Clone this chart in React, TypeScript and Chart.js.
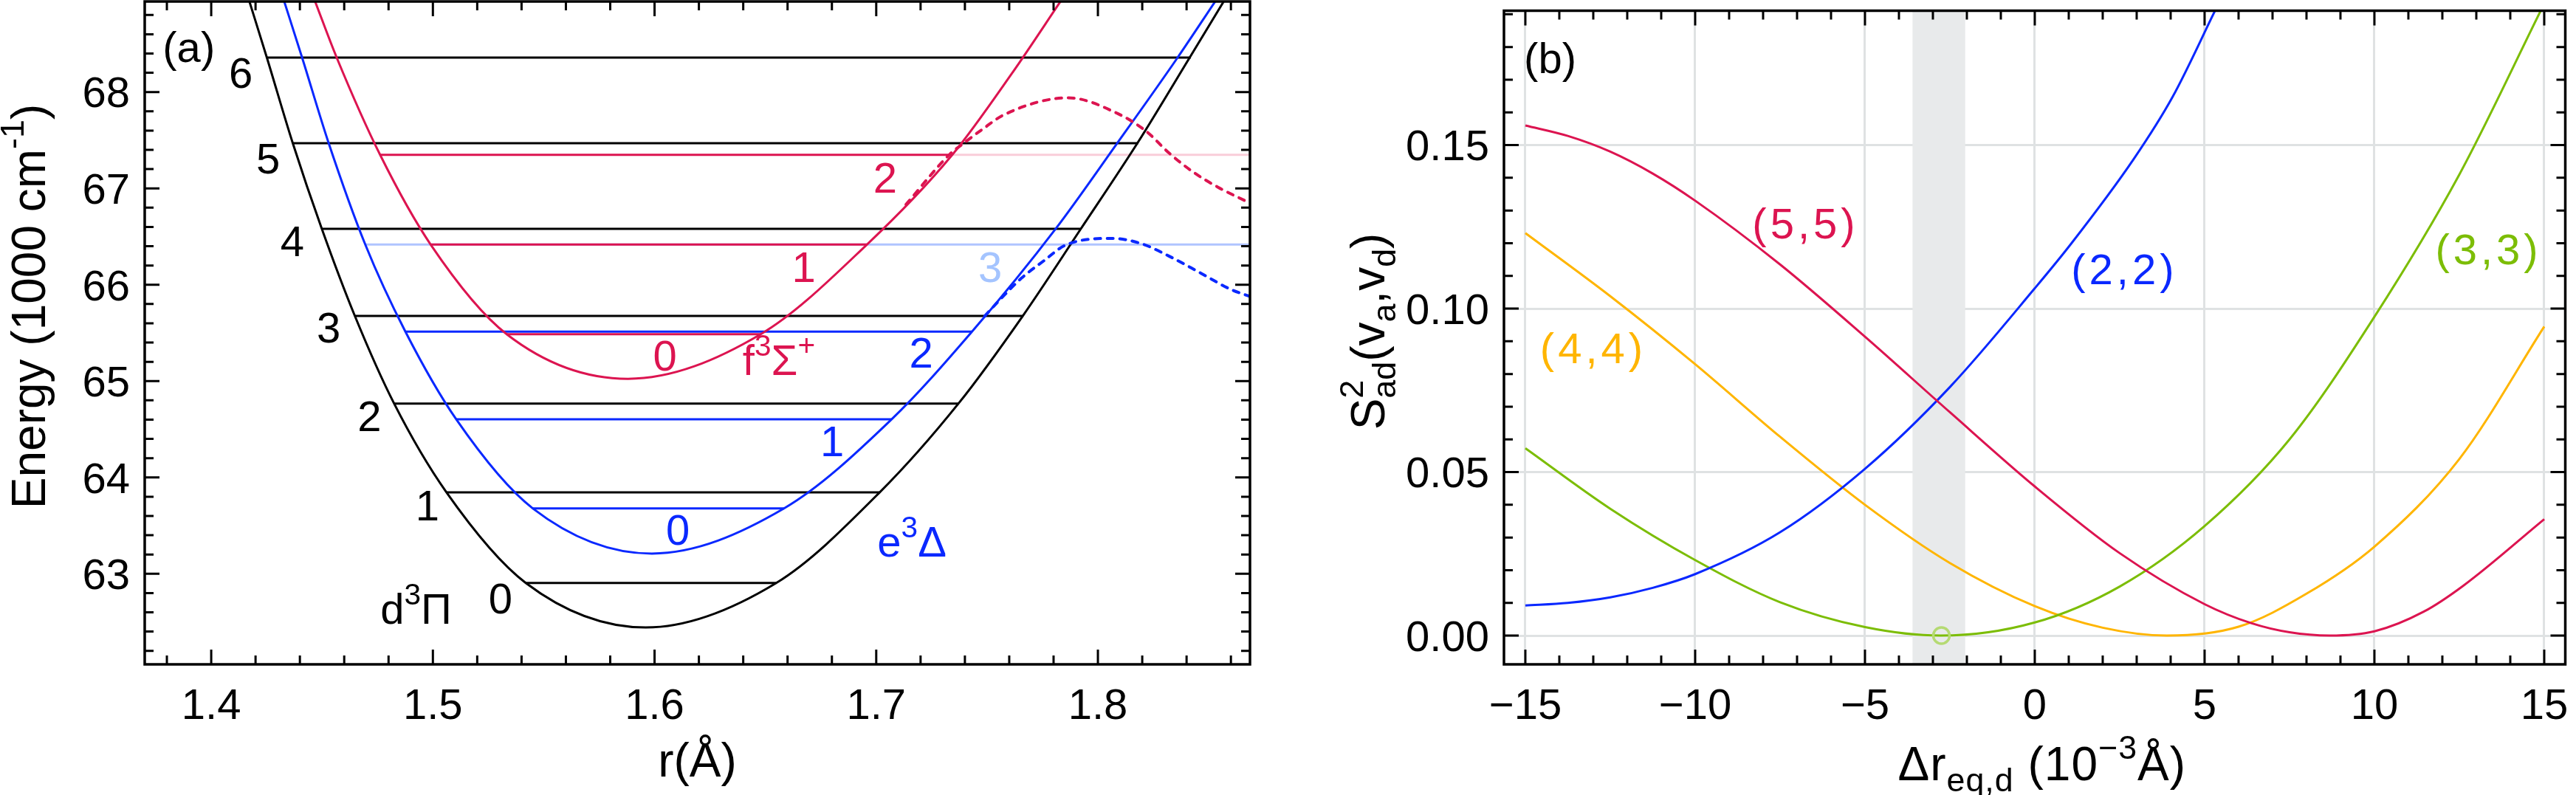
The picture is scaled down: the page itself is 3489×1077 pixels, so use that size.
import React, { useEffect, useRef } from 'react';
import { Chart, registerables } from 'chart.js';
Chart.register(...registerables);

const FONT = '"Liberation Sans", Arial, Helvetica, sans-serif';
const FS = 58;
const TS = 64;

const RED = '#dc1450';
const BLUE = '#0a28ff';
const LIGHT_BLUE = '#b0c4ff';
const LIGHT_BLUE_TEXT = '#a4c4ff';
const PINK = '#f9cdd9';
const GREEN = '#7cbd06';
const GREEN_LIGHT = '#b5da73';
const YELLOW = '#ffb500';
const GRID = '#dfe2e3';
const BAND = '#e8eaeb';

// ---------------- Panel (a) data ----------------
const rRange = [1.37, 1.8686];
const eRange = [62.06, 68.94];
const rTicks = [1.4, 1.5, 1.6, 1.7, 1.8];
const rTickLabels = ['1.4', '1.5', '1.6', '1.7', '1.8'];
const eTicks = [63, 64, 65, 66, 67, 68];
const eTickLabels = ['63', '64', '65', '66', '67', '68'];

const d3PiCurve: [number, number][] = [
  [1.4171, 68.95], [1.4251, 68.358], [1.4368, 67.469], [1.4499, 66.58], [1.4648, 65.676],
  [1.4825, 64.767], [1.5061, 63.846], [1.5419, 62.905], [1.596, 62.443], [1.6549, 62.905],
  [1.7016, 63.846], [1.7371, 64.767], [1.7661, 65.676], [1.7923, 66.58], [1.8178, 67.469],
  [1.8414, 68.358], [1.857, 68.95],
];
const e3DeltaCurve: [number, number][] = [
  [1.4328, 68.95], [1.441, 68.358], [1.453, 67.469], [1.4695, 66.417], [1.4876, 65.513],
  [1.5105, 64.604], [1.5451, 63.678], [1.5988, 63.21], [1.6584, 63.678], [1.707, 64.604],
  [1.7432, 65.513], [1.7809, 66.579], [1.8088, 67.472], [1.8359, 68.356], [1.8532, 68.95],
];
const f3SigmaCurve: [number, number][] = [
  [1.4467, 68.95], [1.4566, 68.358], [1.4762, 67.348], [1.499, 66.417], [1.5333, 65.487],
  [1.588, 65.024], [1.6479, 65.487], [1.6958, 66.417], [1.7343, 67.348], [1.7611, 68.19],
  [1.7834, 68.95],
];
const f3SigmaDashed: [number, number][] = [
  [1.7134, 66.833], [1.7333, 67.357], [1.7389, 67.459], [1.7478, 67.612], [1.7577, 67.765],
  [1.7866, 67.94], [1.8088, 67.778], [1.8221, 67.587], [1.832, 67.369], [1.8432, 67.166],
  [1.8542, 67.012], [1.8687, 66.846],
];
const e3DeltaDashed: [number, number][] = [
  [1.7489, 65.674], [1.7566, 65.864], [1.7655, 66.068], [1.7755, 66.247], [1.7855, 66.412],
  [1.8065, 66.481], [1.8198, 66.425], [1.832, 66.298], [1.8465, 66.119], [1.8598, 65.953],
  [1.8687, 65.877],
];

const d3PiLevelE = [62.905, 63.846, 64.767, 65.676, 66.58, 67.469, 68.358];
const d3PiLevelLeft = [1.5419, 1.5061, 1.4825, 1.4648, 1.4499, 1.4368, 1.4251];
const d3PiLevelRight = [1.6549, 1.7016, 1.7371, 1.7661, 1.7923, 1.8182, 1.8419];
const e3DeltaLevelE = [63.678, 64.604, 65.513];
const e3DeltaLevelLeft = [1.5451, 1.5105, 1.4876];
const e3DeltaLevelRight = [1.6584, 1.707, 1.7432];
const f3SigmaLevelE = [65.487, 66.417, 67.348];
const f3SigmaLevelLeft = [1.5333, 1.499, 1.4762];
const f3SigmaLevelRight = [1.6479, 1.6958, 1.7343];
// quasi-bound levels continuing to the right edge
const e3DeltaQuasi = { e: 66.417, from: 1.4695 };
const f3SigmaQuasi = { e: 67.348, from: 1.7343 };

const d3PiLabelR = [1.5305, 1.4975, 1.4714, 1.453, 1.4366, 1.4257, 1.4133];
const d3PiLabelE = [62.748, 63.71, 64.64, 65.56, 66.454, 67.311, 68.205];
const e3DeltaLabelR = [1.6105, 1.6801, 1.7203, 1.7514];
const e3DeltaLabelE = [63.457, 64.378, 65.298, 66.191];
const f3SigmaLabelR = [1.6047, 1.6673, 1.704];
const f3SigmaLabelE = [65.271, 66.191, 67.111];

// ---------------- Panel (b) data ----------------
const dxRange = [-15.63, 15.62];
const sRange = [-0.0088, 0.1911];
const dxTicks = [-15, -10, -5, 0, 5, 10, 15];
const dxTickLabels = ['\u221215', '\u221210', '\u22125', '0', '5', '10', '15'];
const sTicks = [0, 0.05, 0.1, 0.15];
const sTickLabels = ['0.00', '0.05', '0.10', '0.15'];
const shadedBand = [-3.6, -2.05];
const s33Minimum: [number, number] = [-2.75, 0];

const s55: [number, number][] = [
  [-15, 0.156], [-13.75, 0.1528], [-12.5, 0.148], [-11.25, 0.1413], [-10, 0.133],
  [-7.5, 0.1135], [-5, 0.0914], [-2.5, 0.0683], [0, 0.0456], [2.5, 0.0252],
  [5, 0.0096], [6.37, 0.0038], [7.5, 0.001], [8.68, 0.0], [10, 0.0013],
  [11.45, 0.0073], [12.61, 0.0152], [15, 0.0356],
];
const s22: [number, number][] = [
  [-15, 0.0092], [-13.75, 0.01], [-12.5, 0.0117], [-11.25, 0.0146], [-10, 0.0188],
  [-7.5, 0.0316], [-5, 0.051], [-2.5, 0.076], [0, 0.1062], [1.06, 0.1197],
  [2.91, 0.1457], [4.06, 0.1648], [5.33, 0.1916],
];
const s33: [number, number][] = [
  [-15, 0.0573], [-12.5, 0.0388], [-10, 0.0231], [-7.5, 0.0102], [-5, 0.0026],
  [-2.77, 0.0], [0, 0.004], [2.5, 0.015], [5, 0.0335], [7.5, 0.06],
  [10, 0.0975], [12.5, 0.141], [14.92, 0.1916],
];
const s44: [number, number][] = [
  [-15, 0.1231], [-12.5, 0.1038], [-10, 0.083], [-7.5, 0.0608], [-5, 0.04],
  [-2.5, 0.0222], [0, 0.009], [2, 0.0024], [3.89, 0.0], [6, 0.0027],
  [8, 0.0128], [10, 0.0272], [12.5, 0.054], [15, 0.0945],
];
const pairLabels = ['(5,5)', '(4,4)', '(2,2)', '(3,3)'];
const pairLabelX = [-6.75, -13.0, 2.64, 13.36];
const pairLabelY = [0.1261, 0.0879, 0.1121, 0.1182];
const pairColors = [RED, YELLOW, BLUE, GREEN];

// ---------------- helpers ----------------
type Seg = { t?: string; sup?: string; sub?: string };

function drawRich(ctx: CanvasRenderingContext2D, segs: Seg[], x: number, y: number, size: number,
  color: string, align: 'left' | 'center' | 'right' = 'center', spacing = 0) {
  ctx.save();
  ctx.fillStyle = color;
  ctx.textBaseline = 'alphabetic';
  ctx.textAlign = 'left';
  (ctx as any).letterSpacing = spacing + 'px';
  const small = size * 0.7;
  const widths = segs.map((s) => {
    if (s.t !== undefined) {
      ctx.font = `${size}px ${FONT}`;
      return ctx.measureText(s.t).width;
    }
    ctx.font = `${small}px ${FONT}`;
    return Math.max(s.sup ? ctx.measureText(s.sup).width : 0, s.sub ? ctx.measureText(s.sub).width : 0);
  });
  const total = widths.reduce((a, b) => a + b, 0);
  let cx = align === 'center' ? x - total / 2 : align === 'right' ? x - total : x;
  segs.forEach((s, i) => {
    if (s.t !== undefined) {
      ctx.font = `${size}px ${FONT}`;
      ctx.fillText(s.t, cx, y);
    } else {
      ctx.font = `${small}px ${FONT}`;
      if (s.sup) ctx.fillText(s.sup, cx, y - size * 0.45);
      if (s.sub) ctx.fillText(s.sub, cx, y + size * 0.24);
    }
    cx += widths[i];
  });
  ctx.restore();
}

function stepsBetween(lo: number, hi: number, step: number): number[] {
  const out: number[] = [];
  const n = Math.round((hi - lo) / step);
  for (let i = 0; i <= n; i++) out.push(+(lo + i * step).toFixed(6));
  return out;
}

function drawFrame(chart: any, xMajor: number[], xMinor: number[], yMajor: number[], yMinor: number[]) {
  const { ctx, chartArea: a, scales } = chart;
  const xs = scales.x;
  const ys = scales.y;
  ctx.save();
  ctx.strokeStyle = '#000';
  ctx.lineWidth = 3;
  ctx.lineCap = 'butt';
  ctx.beginPath();
  const tx = (v: number, len: number) => {
    const p = xs.getPixelForValue(v);
    ctx.moveTo(p, a.bottom); ctx.lineTo(p, a.bottom - len);
    ctx.moveTo(p, a.top); ctx.lineTo(p, a.top + len);
  };
  const ty = (v: number, len: number) => {
    const p = ys.getPixelForValue(v);
    ctx.moveTo(a.left, p); ctx.lineTo(a.left + len, p);
    ctx.moveTo(a.right, p); ctx.lineTo(a.right - len, p);
  };
  xMajor.forEach((v) => tx(v, 20));
  xMinor.forEach((v) => tx(v, 12));
  yMajor.forEach((v) => ty(v, 20));
  yMinor.forEach((v) => ty(v, 12));
  ctx.stroke();
  ctx.lineWidth = 3.5;
  ctx.strokeRect(a.left, a.top, a.right - a.left, a.bottom - a.top);
  ctx.restore();
}

function drawTickLabels(chart: any, xVals: number[], xLabels: string[], yVals: number[], yLabels: string[]) {
  const { ctx, chartArea: a, scales } = chart;
  xVals.forEach((v, i) => {
    drawRich(ctx, [{ t: xLabels[i] }], scales.x.getPixelForValue(v), 974, FS, '#000', 'center');
  });
  yVals.forEach((v, i) => {
    drawRich(ctx, [{ t: yLabels[i] }], a.left - 20, scales.y.getPixelForValue(v) + FS * 0.358, FS, '#000', 'right');
  });
}

const pts = (arr: [number, number][]) => arr.map(([x, y]) => ({ x, y }));

const lineDs = (data: { x: number; y: number }[], color: string, width = 3, dash?: number[]) => ({
  data,
  showLine: true,
  borderColor: color,
  backgroundColor: color,
  borderWidth: width,
  pointRadius: 0,
  fill: false,
  cubicInterpolationMode: 'monotone' as const,
  borderDash: dash || [],
  borderCapStyle: dash ? ('round' as const) : ('butt' as const),
});

const segDs = (x1: number, x2: number, e: number, color: string) => ({
  data: [{ x: x1, y: e }, { x: x2, y: e }],
  showLine: true,
  borderColor: color,
  borderWidth: 3,
  pointRadius: 0,
  fill: false,
});

const A_W = 1780;
const H = 1077;
const B_W = 3489 - A_W;

export default function App() {
  const refA = useRef<HTMLCanvasElement>(null);
  const refB = useRef<HTMLCanvasElement>(null);

  useEffect(() => {
    document.body.style.margin = '0';
    // ---------- Panel (a) ----------
    const dsA: any[] = [];
    dsA.push(lineDs(pts(f3SigmaDashed), RED, 4, [8, 9]));
    dsA.push(lineDs(pts(e3DeltaDashed), BLUE, 4, [8, 9]));
    dsA.push(lineDs(pts(f3SigmaCurve), RED));
    dsA.push(lineDs(pts(e3DeltaCurve), BLUE));
    dsA.push(lineDs(pts(d3PiCurve), '#000'));
    f3SigmaLevelE.forEach((e, i) => dsA.push(segDs(f3SigmaLevelLeft[i], f3SigmaLevelRight[i], e, RED)));
    e3DeltaLevelE.forEach((e, i) => dsA.push(segDs(e3DeltaLevelLeft[i], e3DeltaLevelRight[i], e, BLUE)));
    d3PiLevelE.forEach((e, i) => dsA.push(segDs(d3PiLevelLeft[i], d3PiLevelRight[i], e, '#000')));
    dsA.push(segDs(e3DeltaQuasi.from, rRange[1], e3DeltaQuasi.e, LIGHT_BLUE));
    dsA.push(segDs(f3SigmaQuasi.from, rRange[1], f3SigmaQuasi.e, PINK));

    const pluginA = {
      id: 'panelA',
      afterDraw(chart: any) {
        const { ctx, chartArea: a, scales } = chart;
        const xs = scales.x;
        const ys = scales.y;
        drawFrame(chart, rTicks, stepsBetween(1.38, 1.86, 0.02).filter((v) => !rTicks.some((m) => Math.abs(m - v) < 1e-6)),
          eTicks, stepsBetween(62.2, 68.8, 0.2).filter((v) => !eTicks.some((m) => Math.abs(m - v) < 1e-6)));
        drawTickLabels(chart, rTicks, rTickLabels, eTicks, eTickLabels);
        const at = (r: number, e: number, segs: Seg[], color: string) =>
          drawRich(ctx, segs, xs.getPixelForValue(r), ys.getPixelForValue(e) + FS * 0.358, FS, color, 'center');
        at(1.3899, 68.468, [{ t: '(a)' }], '#000');
        d3PiLabelE.forEach((e, i) => at(d3PiLabelR[i], e, [{ t: String(i) }], '#000'));
        e3DeltaLabelE.forEach((e, i) => at(e3DeltaLabelR[i], e, [{ t: String(i) }], i === 3 ? LIGHT_BLUE_TEXT : BLUE));
        f3SigmaLabelE.forEach((e, i) => at(f3SigmaLabelR[i], e, [{ t: String(i) }], RED));
        at(1.4924, 62.642, [{ t: 'd' }, { sup: '3' }, { t: '\u03A0' }], '#000');
        at(1.7161, 63.336, [{ t: 'e' }, { sup: '3' }, { t: '\u0394' }], BLUE);
        at(1.6561, 65.219, [{ t: 'f' }, { sup: '3' }, { t: '\u03A3' }, { sup: '+' }], RED);
        // axis titles
        drawRich(ctx, [{ t: 'r(\u00C5)' }], (a.left + a.right) / 2, 1052, TS, '#000', 'center');
        ctx.save();
        ctx.translate(61, 415);
        ctx.rotate(-Math.PI / 2);
        drawRich(ctx, [{ t: 'Energy (1000 cm' }, { sup: '-1' }, { t: ')' }], 0, 0, TS, '#000', 'center');
        ctx.restore();
      },
    };

    const chartA = new Chart(refA.current!, {
      type: 'scatter',
      data: { datasets: dsA },
      options: {
        animation: false,
        responsive: false,
        devicePixelRatio: 1,
        layout: { padding: { top: 2, right: A_W - 1693, left: 0, bottom: 0 } },
        plugins: { legend: { display: false }, tooltip: { enabled: false } },
        scales: {
          x: {
            type: 'linear', min: rRange[0], max: rRange[1],
            grid: { display: false }, border: { display: false }, ticks: { display: false },
            afterFit: (s: any) => { s.height = H - 900; },
          },
          y: {
            type: 'linear', min: eRange[0], max: eRange[1],
            grid: { display: false }, border: { display: false }, ticks: { display: false },
            afterFit: (s: any) => { s.width = 196; },
          },
        },
      } as any,
      plugins: [pluginA],
    });

    // ---------- Panel (b) ----------
    const dsB: any[] = [
      {
        data: [{ x: s33Minimum[0], y: s33Minimum[1] }],
        showLine: false,
        pointRadius: 11,
        pointBorderWidth: 3.5,
        pointBorderColor: GREEN_LIGHT,
        pointBackgroundColor: 'rgba(0,0,0,0)',
      },
      lineDs(pts(s55), RED),
      lineDs(pts(s22), BLUE),
      lineDs(pts(s33), GREEN),
      lineDs(pts(s44), YELLOW),
    ];

    const pluginB = {
      id: 'panelB',
      beforeDatasetsDraw(chart: any) {
        const { ctx, chartArea: a, scales } = chart;
        const x1 = scales.x.getPixelForValue(shadedBand[0]);
        const x2 = scales.x.getPixelForValue(shadedBand[1]);
        ctx.save();
        ctx.fillStyle = BAND;
        ctx.fillRect(x1, a.top, x2 - x1, a.bottom - a.top);
        ctx.restore();
      },
      afterDraw(chart: any) {
        const { ctx, chartArea: a, scales } = chart;
        const xs = scales.x;
        const ys = scales.y;
        drawFrame(chart, dxTicks, stepsBetween(-15, 15, 1).filter((v) => !dxTicks.includes(v)),
          sTicks, stepsBetween(0.01, 0.19, 0.01).filter((v) => !sTicks.some((m) => Math.abs(m - v) < 1e-6)));
        drawTickLabels(chart, dxTicks, dxTickLabels, sTicks, sTickLabels);
        pairLabels.forEach((t, i) =>
          drawRich(ctx, [{ t }], xs.getPixelForValue(pairLabelX[i]), ys.getPixelForValue(pairLabelY[i]) + FS * 0.358,
            FS, pairColors[i], 'center', 5));
        drawRich(ctx, [{ t: '(b)' }], xs.getPixelForValue(-14.27), ys.getPixelForValue(0.1766) + FS * 0.358, FS, '#000', 'center');
        drawRich(ctx, [{ t: '\u0394r' }, { sub: 'eq,d' }, { t: ' (10' }, { sup: '\u22123' }, { t: '\u00C5)' }],
          (a.left + a.right) / 2 + 10, 1057, TS, '#000', 'center', 1);
        ctx.save();
        ctx.translate(95, 449);
        ctx.rotate(-Math.PI / 2);
        drawRich(ctx, [{ t: 'S' }, { sup: '2', sub: 'ad' }, { t: '(v' }, { sub: 'a' }, { t: ',v' }, { sub: 'd' }, { t: ')' }],
          0, 0, TS, '#000', 'center', 0);
        ctx.restore();
      },
    };

    const chartB = new Chart(refB.current!, {
      type: 'scatter',
      data: { datasets: dsB },
      options: {
        animation: false,
        responsive: false,
        devicePixelRatio: 1,
        layout: { padding: { top: 2, right: B_W - 1704, left: 0, bottom: 0 } },
        plugins: { legend: { display: false }, tooltip: { enabled: false } },
        scales: {
          x: {
            type: 'linear', min: dxRange[0], max: dxRange[1],
            grid: { display: true, color: GRID, lineWidth: 3, drawTicks: false },
            border: { display: false }, ticks: { display: false },
            afterBuildTicks: (s: any) => { s.ticks = dxTicks.map((v) => ({ value: v })); },
            afterFit: (s: any) => { s.height = H - 900; },
          },
          y: {
            type: 'linear', min: sRange[0], max: sRange[1],
            grid: { display: true, color: GRID, lineWidth: 3, drawTicks: false },
            border: { display: false }, ticks: { display: false },
            afterBuildTicks: (s: any) => { s.ticks = sTicks.map((v) => ({ value: v })); },
            afterFit: (s: any) => { s.width = 257; },
          },
        },
      } as any,
      plugins: [pluginB],
    });

    return () => {
      chartA.destroy();
      chartB.destroy();
    };
  }, []);

  return (
    <div style={{ position: 'fixed', left: 0, top: 0, width: 3489, height: H, background: '#fff', overflow: 'hidden' }}>
      <canvas ref={refA} width={A_W} height={H} style={{ position: 'absolute', left: 0, top: 0 }} />
      <canvas ref={refB} width={B_W} height={H} style={{ position: 'absolute', left: A_W, top: 0 }} />
    </div>
  );
}
